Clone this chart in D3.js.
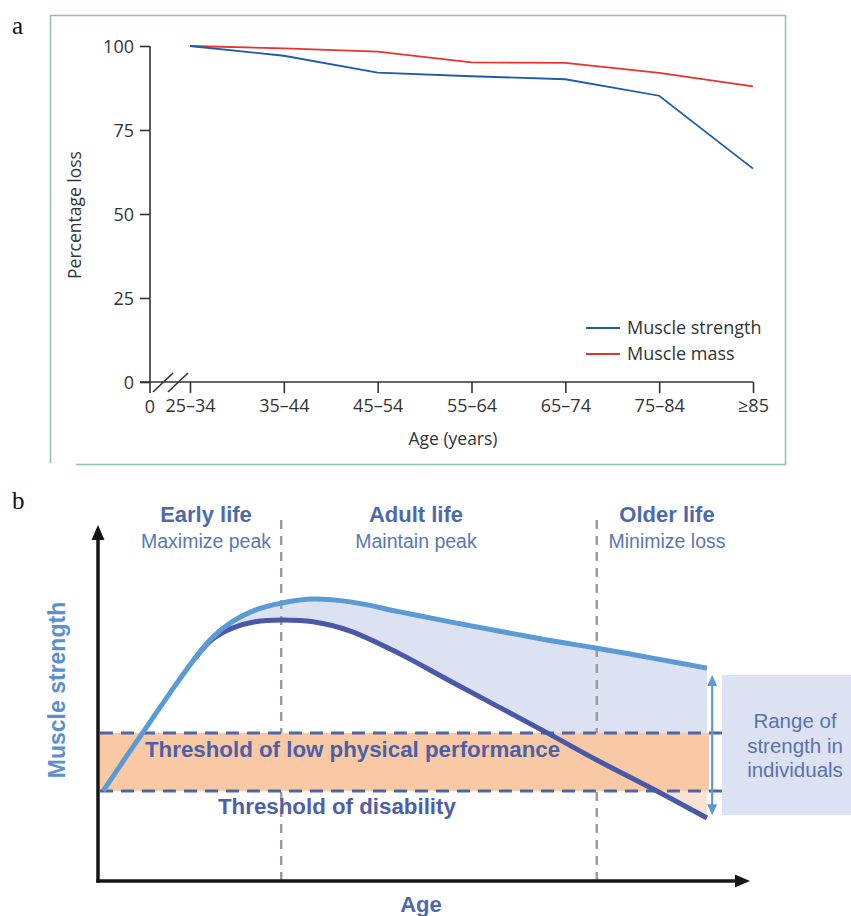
<!DOCTYPE html>
<html>
<head>
<meta charset="utf-8">
<script src="https://cdn.jsdelivr.net/npm/d3@7"></script>
<style>
  html, body { margin: 0; padding: 0; background: #fff; }
  svg { display: block; }
</style>
</head>
<body>
<svg id="chart" width="851" height="916"></svg>
<script>
// ---------- Panel a: percentage loss by age group ----------
const ageGroups = ["25–34", "35–44", "45–54", "55–64", "65–74", "75–84", "≥85"];
const muscleStrength = [100, 97.1, 92.1, 91, 90.1, 85.2, 63.5];
const muscleMass = [100, 99.3, 98.3, 95.1, 95, 92, 88];
const yTicksA = [0, 25, 50, 75, 100];

// ---------- Panel b: conceptual life-course of muscle strength ----------
const ageGrid    = [0.8, 4.1, 8.0, 11.8, 14.9, 17.6, 20.7, 24.1, 28.2, 33.0, 38.7, 46.3, 54.0, 68.9, 76.5, 85.7, 93.4];
const upperCurve = [25.3, 34.3, 44.7, 54.8, 62.6, 68.5, 73.0, 76.1, 78.1, 79.2, 78.4, 75.6, 72.8, 67.7, 65.4, 62.4, 59.8];
const lowerCurve = [null, null, null, null, 62.6, 68.0, 71.1, 72.8, 73.3, 72.8, 70.2, 63.8, 56.2, 41.6, 34.0, 25.3, 17.7];
const thresholds = [41.6, 25.3];           // low physical performance, disability
const thresholdLabels = ["Threshold of low physical performance", "Threshold of disability"];
const phaseBounds = [28.1, 76.5];
const phaseTitles = ["Early life", "Adult life", "Older life"];
const phaseSubs   = ["Maximize peak", "Maintain peak", "Minimize loss"];
const rangeLines  = ["Range of", "strength in", "individuals"];

const svg = d3.select("#chart");
const defs = svg.append("defs");

// ===== Panel a =====
const fontA = "'Open Sans', sans-serif";
const inkA = "#333";

// frame
svg.append("path").attr("d", "M50.5,463 V15.5 H785.5 V464.5 H76")
  .attr("fill", "none").attr("stroke", "#8cc3a9").attr("stroke-width", 1.5);

svg.append("text").attr("x", 12).attr("y", 34)
  .attr("font-family", "'Liberation Serif', 'Times New Roman', serif")
  .attr("font-size", 25).attr("fill", "#111").text("a");

const xA = d3.scalePoint().domain(ageGroups).range([190, 753]);
const yA = d3.scaleLinear().domain([0, 100]).range([382, 46]);
const axisX0 = 150;

// y axis
const gy = svg.append("g").attr("transform", `translate(${axisX0},0)`)
  .call(d3.axisLeft(yA).tickValues(yTicksA).tickSize(10).tickSizeOuter(0).tickPadding(6));
gy.select(".domain").remove();
gy.selectAll(".tick line").attr("stroke", inkA).attr("stroke-width", 1.6);
gy.selectAll(".tick text").attr("font-family", fontA).attr("font-size", 18).attr("fill", inkA)
  .attr("dy", "0.36em");
svg.append("line").attr("x1", axisX0).attr("x2", axisX0).attr("y1", yA(100)).attr("y2", yA(0) + 11)
  .attr("stroke", inkA).attr("stroke-width", 1.6);

// x axis
const gx = svg.append("g").attr("transform", `translate(0,${yA(0)})`)
  .call(d3.axisBottom(xA).tickSize(11).tickSizeOuter(0).tickPadding(6));
gx.select(".domain").remove();
gx.selectAll(".tick line").attr("stroke", inkA).attr("stroke-width", 1.6);
gx.selectAll(".tick text").attr("font-family", fontA).attr("font-size", 18).attr("fill", inkA);
svg.append("line").attr("x1", axisX0 - 10).attr("x2", xA(ageGroups[ageGroups.length - 1]))
  .attr("y1", yA(0)).attr("y2", yA(0)).attr("stroke", inkA).attr("stroke-width", 1.6);
svg.append("text").attr("x", axisX0).attr("y", yA(0) + 31).attr("text-anchor", "middle")
  .attr("font-family", fontA).attr("font-size", 18).attr("fill", inkA).text("0");

// axis break marks
[0, 15].forEach(dx => {
  svg.append("line")
    .attr("x1", axisX0 + 3 + dx).attr("y1", yA(0) + 10)
    .attr("x2", axisX0 + 23 + dx).attr("y2", yA(0) - 9)
    .attr("stroke", inkA).attr("stroke-width", 1.6);
});

svg.append("text").attr("transform", `translate(81,215) rotate(-90)`).attr("text-anchor", "middle")
  .attr("font-family", fontA).attr("font-size", 17.5).attr("fill", inkA).text("Percentage loss");
svg.append("text").attr("x", 453).attr("y", 445).attr("text-anchor", "middle")
  .attr("font-family", fontA).attr("font-size", 17.5).attr("fill", inkA).text("Age (years)");

const lineA = d3.line().x((d, i) => xA(ageGroups[i])).y(d => yA(d));
const seriesA = [
  { name: "Muscle strength", values: muscleStrength, color: "#1c5ca8" },
  { name: "Muscle mass", values: muscleMass, color: "#e8322d" }
];
// mass first so strength overlays it at the shared start
[seriesA[1], seriesA[0]].forEach(s => {
  svg.append("path").attr("d", lineA(s.values)).attr("fill", "none")
    .attr("stroke", s.color).attr("stroke-width", 1.8);
});

const legend = svg.append("g").attr("transform", "translate(586,328)");
seriesA.forEach((s, i) => {
  const g = legend.append("g").attr("transform", `translate(0,${i * 26})`);
  g.append("line").attr("x1", 0).attr("x2", 34).attr("stroke", s.color).attr("stroke-width", 1.8);
  g.append("text").attr("x", 41).attr("y", 6).attr("font-family", fontA).attr("font-size", 18)
    .attr("fill", inkA).text(s.name);
});

// ===== Panel b =====
const fontB = "'Liberation Sans', Arial, sans-serif";
svg.append("text").attr("x", 12).attr("y", 509)
  .attr("font-family", "'Liberation Serif', 'Times New Roman', serif")
  .attr("font-size", 25).attr("fill", "#111").text("b");

const xB = d3.scaleLinear().domain([0, 100]).range([98, 750]);
const yB = d3.scaleLinear().domain([0, 100]).range([881, 525]);

const light = "#5b9bd5", dark = "#4a58a8", lavender = "#dde2f3", peach = "#f9c9a6";
const curve = d3.curveCatmullRom.alpha(0.5);

// range box on the right
const rangeTop = 57.9, rangeBottom = 18.5;
svg.append("rect").attr("x", xB(95.7)).attr("y", yB(rangeTop))
  .attr("width", 851 - xB(95.7)).attr("height", yB(rangeBottom) - yB(rangeTop))
  .attr("fill", lavender);

// area between the two trajectories: lavender above the disability line, pale peach below
defs.append("clipPath").attr("id", "aboveDisability").append("rect")
  .attr("x", 0).attr("y", 0).attr("width", 851).attr("height", yB(thresholds[1]));
defs.append("clipPath").attr("id", "belowDisability").append("rect")
  .attr("x", 0).attr("y", yB(thresholds[1])).attr("width", 851).attr("height", 916 - yB(thresholds[1]));
const both = ageGrid.map((a, i) => ({ a, u: upperCurve[i], l: lowerCurve[i] })).filter(d => d.l !== null);
const areaD = d3.area().x(d => xB(d.a)).y0(d => yB(d.u)).y1(d => yB(d.l)).curve(curve)(both);
svg.append("path").attr("d", areaD).attr("fill", lavender).attr("clip-path", "url(#aboveDisability)");
svg.append("path").attr("d", areaD).attr("fill", "#fae3d5").attr("clip-path", "url(#belowDisability)");

// phase separators
phaseBounds.forEach(b => {
  svg.append("line").attr("x1", xB(b)).attr("x2", xB(b)).attr("y1", 520).attr("y2", yB(0))
    .attr("stroke", "#9c9c9c").attr("stroke-width", 2.5).attr("stroke-dasharray", "9,7");
});

// threshold band
svg.append("rect").attr("x", xB(0.3)).attr("y", yB(thresholds[0]))
  .attr("width", xB(93.7) - xB(0.3)).attr("height", yB(thresholds[1]) - yB(thresholds[0]))
  .attr("fill", peach);
thresholds.forEach(t => {
  svg.append("line").attr("x1", xB(0.3)).attr("x2", xB(95.7)).attr("y1", yB(t)).attr("y2", yB(t))
    .attr("stroke", "#5065a2").attr("stroke-width", 3).attr("stroke-dasharray", "13,8");
});

// trajectories
const lineB = d3.line().defined(d => d[1] !== null).x(d => xB(d[0])).y(d => yB(d[1])).curve(curve);
svg.append("path").attr("d", lineB(ageGrid.map((a, i) => [a, lowerCurve[i]])))
  .attr("fill", "none").attr("stroke", dark).attr("stroke-width", 5);
svg.append("path").attr("d", lineB(ageGrid.map((a, i) => [a, upperCurve[i]])))
  .attr("fill", "none").attr("stroke", light).attr("stroke-width", 5);

// axes with arrowheads
const axisInk = "#161616";
svg.append("line").attr("x1", xB(0)).attr("x2", xB(0)).attr("y1", yB(0) + 1.7).attr("y2", 538)
  .attr("stroke", axisInk).attr("stroke-width", 3.5);
svg.append("path").attr("d", `M${xB(0)},525 l-6.5,15 h13 z`).attr("fill", axisInk);
svg.append("line").attr("x1", xB(0) - 1.7).attr("x2", 737).attr("y1", yB(0)).attr("y2", yB(0))
  .attr("stroke", axisInk).attr("stroke-width", 3.5);
svg.append("path").attr("d", `M750,${yB(0)} l-15,-6.5 v13 z`).attr("fill", axisInk);

// range arrow
const ax = xB(94.2);
svg.append("line").attr("x1", ax).attr("x2", ax).attr("y1", yB(rangeTop) + 8).attr("y2", yB(rangeBottom) - 8)
  .attr("stroke", light).attr("stroke-width", 2.2);
svg.append("path").attr("d", `M${ax},${yB(rangeTop)} l-5,11 h10 z`).attr("fill", light);
svg.append("path").attr("d", `M${ax},${yB(rangeBottom)} l-5,-11 h10 z`).attr("fill", light);

// phase headings
const headX = [206, 416, 667];
phaseTitles.forEach((t, i) => {
  svg.append("text").attr("x", headX[i]).attr("y", 522).attr("text-anchor", "middle")
    .attr("font-family", fontB).attr("font-weight", "bold").attr("font-size", 22)
    .attr("fill", "#4b6aae").text(t);
  svg.append("text").attr("x", headX[i]).attr("y", 548).attr("text-anchor", "middle")
    .attr("font-family", fontB).attr("font-size", 19.5)
    .attr("fill", "#5b77b3").text(phaseSubs[i]);
});

// threshold labels
svg.append("text").attr("x", 145).attr("y", 757)
  .attr("font-family", fontB).attr("font-weight", "bold").attr("font-size", 22.3)
  .attr("fill", "#4c60a6").text(thresholdLabels[0]);
svg.append("text").attr("x", 218).attr("y", 814)
  .attr("font-family", fontB).attr("font-weight", "bold").attr("font-size", 22.3)
  .attr("fill", "#4c60a6").text(thresholdLabels[1]);

// range caption
rangeLines.forEach((t, i) => {
  svg.append("text").attr("x", 795).attr("y", 728 + i * 24.5).attr("text-anchor", "middle")
    .attr("font-family", fontB).attr("font-size", 20.5).attr("fill", "#5a72aa").text(t);
});

// axis titles
svg.append("text").attr("transform", "translate(65,690) rotate(-90)").attr("text-anchor", "middle")
  .attr("font-family", fontB).attr("font-weight", "bold").attr("font-size", 23)
  .attr("fill", "#5a8fd0").text("Muscle strength");
svg.append("text").attr("x", 421).attr("y", 912).attr("text-anchor", "middle")
  .attr("font-family", fontB).attr("font-weight", "bold").attr("font-size", 22)
  .attr("fill", "#4b6aae").text("Age");
</script>
</body>
</html>
